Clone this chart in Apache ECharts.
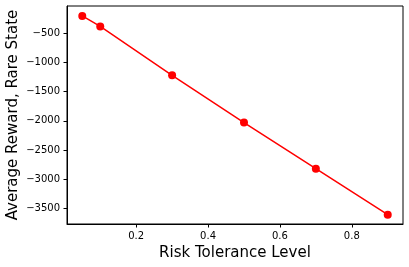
<!DOCTYPE html>
<html>
<head>
<meta charset="utf-8">
<script src="https://cdn.jsdelivr.net/npm/echarts@6/dist/echarts.min.js"></script>
<style>html,body{margin:0;padding:0;background:#fff}#c{width:409px;height:267px}</style>
</head>
<body>
<div id="c"></div>
<script>
const riskLevels = [0.05, 0.1, 0.3, 0.5, 0.7, 0.9];
const avgReward = [-200, -380, -1220, -2030, -2820, -3610];
const xTitle = 'Risk Tolerance Level';
const yTitle = 'Average Reward, Rare State';

const chart = echarts.init(document.getElementById('c'), null, {renderer: 'canvas'});
const font = 'DejaVu Sans';
chart.setOption({
  animation: false,
  grid: {left: 67, right: 6, top: 6, bottom: 43, containLabel: false, outerBoundsMode: 'none',
    show: true, borderColor: '#000', borderWidth: 1, backgroundColor: 'transparent'},
  xAxis: {
    type: 'value', min: 0.0075, max: 0.9425, splitNumber: 5,
    name: xTitle, nameLocation: 'middle', nameGap: 22, nameMoveOverlap: false,
    nameTextStyle: {fontFamily: font, fontSize: 15, color: '#000'},
    axisLine: {show: true, lineStyle: {color: '#000', width: 1}},
    axisTick: {show: true, length: 3.5, lineStyle: {color: '#000'}},
    axisLabel: {fontFamily: font, fontSize: 10, color: '#000', margin: 7, showMinLabel: false, showMaxLabel: false,
      formatter: v => v.toFixed(1)},
    splitLine: {show: false}
  },
  yAxis: {
    type: 'value', min: -3770, max: -30, splitNumber: 8,
    name: yTitle, nameLocation: 'middle', nameGap: 46, nameRotate: 90, nameMoveOverlap: false,
    nameTextStyle: {fontFamily: font, fontSize: 15, color: '#000'},
    axisLine: {show: true, lineStyle: {color: '#000', width: 1}},
    axisTick: {show: true, length: 3.5, lineStyle: {color: '#000'}},
    axisLabel: {fontFamily: font, fontSize: 10, color: '#000', margin: 7, showMinLabel: false, showMaxLabel: false,
      formatter: v => (v < 0 ? '\u2212' + Math.abs(v) : String(v))},
    splitLine: {show: false}
  },
  series: [{
    type: 'line',
    data: riskLevels.map((x, i) => [x, avgReward[i]]),
    symbol: 'circle', symbolSize: 8,
    lineStyle: {color: '#ff0000', width: 1.5},
    itemStyle: {color: '#ff0000'}
  }]
});
</script>
</body>
</html>
